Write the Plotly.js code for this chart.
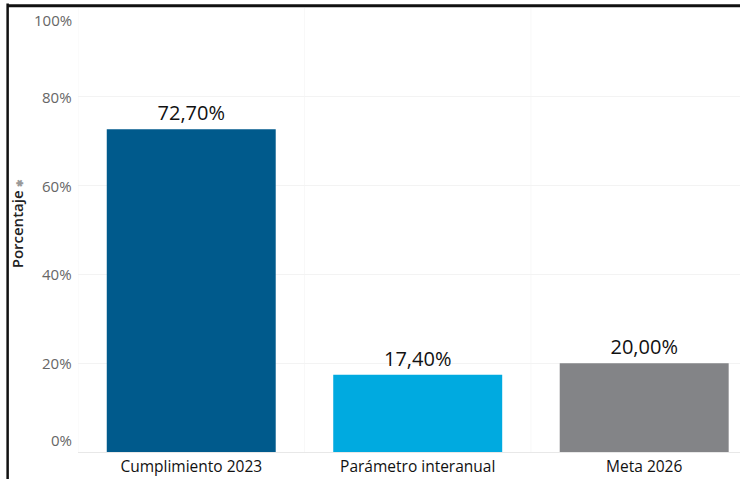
<!DOCTYPE html>
<html>
<head>
<meta charset="utf-8">
<script src="https://cdn.plot.ly/plotly-3.0.1.min.js"></script>
<style>html,body{margin:0;padding:0;background:#fff;}#chart{width:740px;height:479px;}</style>
</head>
<body>
<div id="chart"></div>
<script>
const categories = ["Cumplimiento 2023", "Parámetro interanual", "Meta 2026"];
const values = [72.7, 17.4, 20.0];
const valueLabels = ["72,70%", "17,40%", "20,00%"];
const barColors = ["#005A8C", "#00AAE0", "#838487"];
const tickVals = [0, 20, 40, 60, 80, 100];
const tickText = ["0%", "20%", "40%", "60%", "80%", "100%"];

const FONT = "Open Sans, Noto Sans, sans-serif";

const trace = {
  type: "bar",
  x: categories,
  y: values,
  text: valueLabels,
  textposition: "outside",
  cliponaxis: false,
  textfont: {family: FONT, size: 20, color: "#111"},
  marker: {color: barColors, line: {width: 0}},
  width: 0.746,
  hoverinfo: "skip"
};

const annotations = tickVals.map((v, i) => ({
  x: 0, xref: "paper", y: v, yref: "y",
  text: tickText[i], showarrow: false,
  xanchor: "right", yanchor: "middle", xshift: -4,
  yshift: i === 0 ? 12 : (i === tickVals.length - 1 ? -12 : 0),
  font: {family: FONT, size: 15, color: "#666"}
}));
annotations.push({
  x: -0.5, xref: "x", y: 0.515, yref: "paper",
  text: "Porcentaje <span style='font-size:9px;color:#999'>✱</span>",
  textangle: -90, showarrow: false, xanchor: "center", yanchor: "middle",
  xshift: -61,
  font: {family: FONT, size: 15, color: "#222", weight: 600}
});

const shapes = [
  {type: "line", xref: "paper", yref: "paper", x0: -0.1063, x1: -0.1063, y0: 1.01, y1: -0.08,
   line: {color: "#111", width: 2.5}},
  {type: "line", xref: "paper", yref: "paper", x0: -0.1063, x1: 1, y0: 1.005, y1: 1.005,
   line: {color: "#111", width: 3}}
];
[-0.5, 0.5, 1.5].forEach(x => shapes.push({
  type: "line", xref: "x", yref: "paper", x0: x, x1: x, y0: 0, y1: 1,
  line: {color: "#f8f8f8", width: 1}, layer: "below"
}));

const layout = {
  width: 740, height: 479,
  margin: {l: 78, r: 0, t: 8, b: 27},
  paper_bgcolor: "#fff", plot_bgcolor: "#fff",
  showlegend: false,
  bargap: 0.254,
  font: {family: FONT},
  xaxis: {
    range: [-0.5, 2.423], showgrid: false, zeroline: false, showline: false,
    ticks: "", tickfont: {family: FONT, size: 15.5, color: "#111"},
    ticklabelstandoff: 3,
    fixedrange: true
  },
  yaxis: {
    range: [0, 100], tickvals: tickVals, showticklabels: false,
    showgrid: true, gridcolor: "#f3f3f3", gridwidth: 1,
    zeroline: true, zerolinecolor: "#e8e8e8", zerolinewidth: 1,
    showline: false, ticks: "", fixedrange: true
  },
  annotations: annotations,
  shapes: shapes
};

Plotly.newPlot("chart", [trace], layout, {displayModeBar: false, staticPlot: true});
</script>
</body>
</html>
